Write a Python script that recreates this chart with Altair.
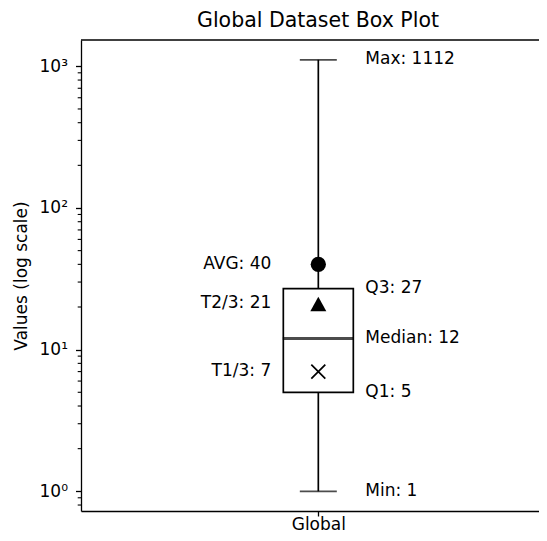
import altair as alt
import pandas as pd

# ---- data ----
category = "Global"
stat_names = ["Min", "Q1", "Median", "Q3", "Max"]
stat_values = [1, 5, 12, 27, 1112]
extra_names = ["AVG", "T2/3", "T1/3"]
extra_values = [40, 21, 7]
major_ticks = [1, 10, 100, 1000]
minor_ticks = [0.8, 0.9, 2, 3, 4, 5, 6, 7, 8, 9, 20, 30, 40, 50, 60, 70, 80, 90,
               200, 300, 400, 500, 600, 700, 800, 900]

s = dict(zip(stat_names, stat_values))
e = dict(zip(extra_names, extra_values))

box_df = pd.DataFrame([{"x": 1, "min": s["Min"], "q1": s["Q1"], "median": s["Median"],
                        "q3": s["Q3"], "max": s["Max"]}])
caps_df = pd.DataFrame({"x": [1, 1], "v": [s["Min"], s["Max"]]})
right_df = pd.DataFrame({"x": 1, "v": stat_values,
                         "label": [f"{n}: {v}" for n, v in zip(stat_names, stat_values)]})
left_df = pd.DataFrame({"x": 1, "v": extra_values,
                        "label": [f"{n}: {v}" for n, v in zip(extra_names, extra_values)]})
avg_df = pd.DataFrame({"x": [1], "v": [e["AVG"]]})
t23_df = pd.DataFrame({"x": [1], "v": [e["T2/3"]]})
t13_df = pd.DataFrame({"x": [1], "v": [e["T1/3"]]})
minor_df = pd.DataFrame({"v": minor_ticks})

FONT = "DejaVu Sans"
FS = 17
W, H = 458, 471

yscale = alt.Scale(type="log", domain=[0.726, 1534], nice=False)
xscale = alt.Scale(domain=[0.5, 1.4642], nice=False, zero=False)

xenc = alt.X("x:Q", scale=xscale,
             axis=alt.Axis(values=[1], labelExpr=f"'{category}'", title=None, grid=False,
                           tickSize=5, tickColor="black", tickWidth=1.3,
                           domainColor="black", domainWidth=1.3,
                           labelFontSize=FS, labelColor="black", labelFont=FONT, labelPadding=0))
yaxis = alt.Axis(values=major_ticks,
                 labelExpr="'10' + ['⁰','¹','²','³'][round(log(datum.value)/LN10)]",
                 title="Values (log scale)", grid=False, tickSize=5.5, tickColor="black",
                 tickWidth=1.3, domainColor="black", domainWidth=1.3,
                 labelFontSize=FS, labelColor="black", labelFont=FONT, labelPadding=8,
                 titleFont=FONT, titleFontSize=FS, titleFontWeight="normal", titleColor="black",
                 titlePadding=9)

base = alt.Chart(box_df)
X = alt.X("x:Q", scale=xscale)

frame_top = base.mark_rule(color="black", strokeWidth=1.3).encode(
    x=alt.value(0), x2=alt.value(W), y=alt.value(0))
wl = base.mark_rule(color="black", strokeWidth=1.7).encode(
    x=xenc, y=alt.Y("min:Q", scale=yscale, axis=yaxis), y2="q1:Q")
wh = base.mark_rule(color="black", strokeWidth=1.7).encode(
    x=X, y=alt.Y("q3:Q", scale=yscale), y2="max:Q")
caps = alt.Chart(caps_df).mark_tick(orient="horizontal", size=37, thickness=1.7, color="black").encode(
    x=X, y=alt.Y("v:Q", scale=yscale))
box = base.mark_bar(size=70, filled=False, stroke="black", strokeWidth=1.7, fill="white").encode(
    x=X, y=alt.Y("q1:Q", scale=yscale), y2="q3:Q")
med = base.mark_tick(orient="horizontal", size=71, thickness=3, color="black").encode(
    x=X, y=alt.Y("median:Q", scale=yscale))
avg = alt.Chart(avg_df).mark_point(shape="circle", filled=True, color="black", size=234, opacity=1).encode(
    x=X, y=alt.Y("v:Q", scale=yscale))
t23 = alt.Chart(t23_df).mark_point(shape="M0,-0.9L-1,0.9L1,0.9Z", filled=True, color="black",
                                   size=256, opacity=1).encode(
    x=X, y=alt.Y("v:Q", scale=yscale))
t13 = alt.Chart(t13_df).mark_point(shape="M-1,-1L1,1M1,-1L-1,1", filled=False, color="black",
                                   size=196, strokeWidth=1.7, opacity=1).encode(
    x=X, y=alt.Y("v:Q", scale=yscale))
rtext = alt.Chart(right_df).mark_text(align="left", baseline="middle", dx=47, dy=-0.5, fontSize=FS,
                                      font=FONT, color="black").encode(
    x=X, y=alt.Y("v:Q", scale=yscale), text="label:N")
ltext = alt.Chart(left_df).mark_text(align="right", baseline="middle", dx=-47, dy=-0.5, fontSize=FS,
                                     font=FONT, color="black").encode(
    x=X, y=alt.Y("v:Q", scale=yscale), text="label:N")
minor = alt.Chart(minor_df).mark_rule(color="black", strokeWidth=1.1).encode(
    x=alt.value(-3.3), x2=alt.value(0), y=alt.Y("v:Q", scale=yscale))

chart = alt.layer(minor, frame_top, wl, wh, caps, box, med, avg, t23, t13, rtext, ltext).properties(
    width=W, height=H,
    title=alt.Title("Global Dataset Box Plot", font=FONT, fontSize=20.5, fontWeight="normal",
                    color="black", offset=8, dx=8),
    autosize=alt.AutoSizeParams(type="none"),
    padding={"left": 73, "top": 32, "right": 0, "bottom": 22},
).configure_view(stroke=None)

chart.save("out.html", embed_options={"renderer": "svg", "actions": False})
